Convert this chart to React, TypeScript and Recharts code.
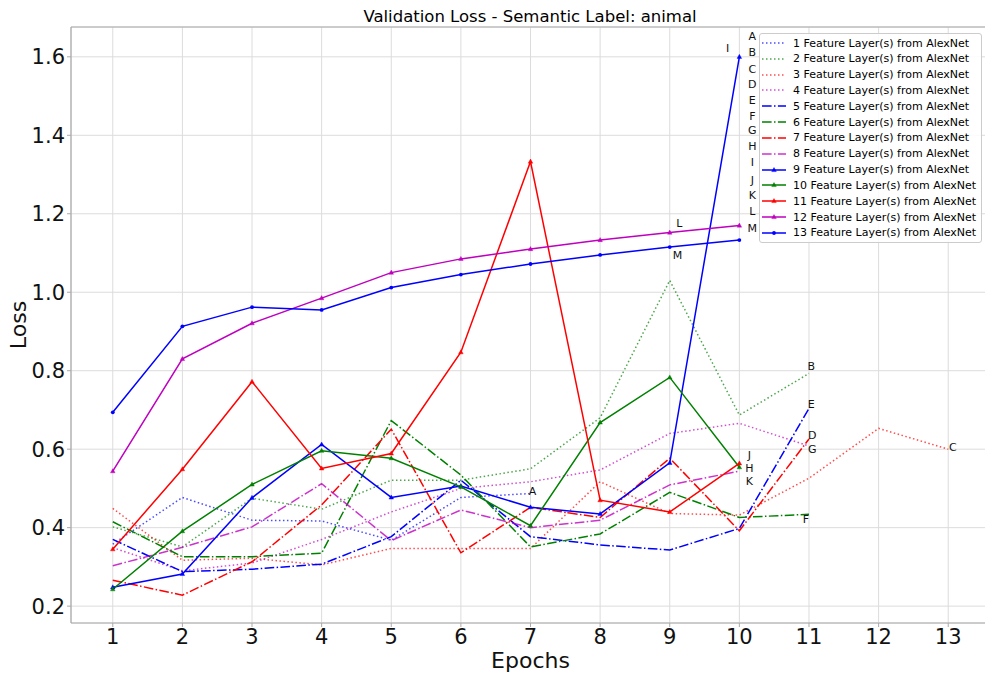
import React from 'react';
import { LineChart, Line, XAxis, YAxis, CartesianGrid, ReferenceDot, ReferenceLine } from 'recharts';

// epochs on the x axis
const epochs = [1, 2, 3, 4, 5, 6, 7, 8, 9, 10, 11, 12, 13];
const xTicks = [1, 2, 3, 4, 5, 6, 7, 8, 9, 10, 11, 12, 13];
const yTicks = [0.2, 0.4, 0.6, 0.8, 1.0, 1.2, 1.4, 1.6];

// validation loss per number of feature layers
const loss1 = [0.358, 0.477, 0.419, 0.417, 0.368, 0.477, 0.487];
const loss2 = [0.402, 0.351, 0.475, 0.447, 0.521, 0.521, 0.55, 0.68, 1.03, 0.687, 0.793];
const loss3 = [0.449, 0.317, 0.322, 0.305, 0.347, 0.347, 0.347, 0.517, 0.436, 0.432, 0.526, 0.653, 0.6];
const loss4 = [0.349, 0.29, 0.31, 0.37, 0.44, 0.5, 0.517, 0.547, 0.64, 0.666, 0.608];
const loss5 = [0.37, 0.288, 0.294, 0.307, 0.377, 0.521, 0.377, 0.356, 0.343, 0.398, 0.704];
const loss6 = [0.415, 0.326, 0.326, 0.335, 0.673, 0.534, 0.351, 0.384, 0.49, 0.426, 0.434];
const loss7 = [0.266, 0.228, 0.313, 0.458, 0.651, 0.336, 0.452, 0.426, 0.577, 0.392, 0.626];
const loss8 = [0.303, 0.35, 0.402, 0.512, 0.367, 0.445, 0.4, 0.419, 0.509, 0.544];
const loss9 = [0.248, 0.282, 0.476, 0.612, 0.477, 0.506, 0.452, 0.435, 0.565, 1.6];
const loss10 = [0.243, 0.391, 0.51, 0.596, 0.577, 0.504, 0.405, 0.668, 0.783, 0.554];
const loss11 = [0.345, 0.549, 0.772, 0.551, 0.589, 0.847, 1.333, 0.47, 0.44, 0.564];
const loss12 = [0.544, 0.83, 0.921, 0.985, 1.05, 1.085, 1.11, 1.133, 1.152, 1.17];
const loss13 = [0.694, 0.913, 0.962, 0.955, 1.012, 1.045, 1.072, 1.095, 1.115, 1.133];

// letter annotations (text, epoch, loss)
const noteText = ['A', 'B', 'C', 'D', 'E', 'F', 'G', 'H', 'I', 'J', 'K', 'L', 'M',
  'I', 'L', 'M', 'A', 'B', 'E', 'D', 'G', 'C', 'J', 'H', 'K', 'F'];
const noteEpoch = [10.186, 10.186, 10.186, 10.186, 10.186, 10.186, 10.186, 10.186, 10.186, 10.186, 10.186, 10.186, 10.186,
  9.832, 9.138, 9.11, 7.028, 11.033, 11.033, 11.047, 11.047, 13.067, 10.143, 10.143, 10.143, 10.957];
const noteLoss = [1.651, 1.61, 1.567, 1.529, 1.488, 1.447, 1.411, 1.371, 1.33, 1.286, 1.246, 1.205, 1.162,
  1.621, 1.174, 1.093, 0.491, 0.812, 0.715, 0.634, 0.6, 0.604, 0.585, 0.551, 0.517, 0.422];

const DOTTED = '1.5 2.5';
const DASHDOT = '9.6 2.4 1.5 2.4';

const series = [
  { key: 's1', values: loss1, color: '#0000ff', dash: DOTTED, marker: '', opacity: 0.7 },
  { key: 's2', values: loss2, color: '#008000', dash: DOTTED, marker: '', opacity: 0.7 },
  { key: 's3', values: loss3, color: '#ff0000', dash: DOTTED, marker: '', opacity: 0.7 },
  { key: 's4', values: loss4, color: '#bf00bf', dash: DOTTED, marker: '', opacity: 0.7 },
  { key: 's5', values: loss5, color: '#0000ff', dash: DASHDOT, marker: '', opacity: 1 },
  { key: 's6', values: loss6, color: '#008000', dash: DASHDOT, marker: '', opacity: 1 },
  { key: 's7', values: loss7, color: '#ff0000', dash: DASHDOT, marker: '', opacity: 1 },
  { key: 's8', values: loss8, color: '#bf00bf', dash: DASHDOT, marker: '', opacity: 0.8 },
  { key: 's9', values: loss9, color: '#0000ff', dash: undefined, marker: 'tri', opacity: 1 },
  { key: 's10', values: loss10, color: '#008000', dash: undefined, marker: 'tri', opacity: 1 },
  { key: 's11', values: loss11, color: '#ff0000', dash: undefined, marker: 'tri', opacity: 1 },
  { key: 's12', values: loss12, color: '#bf00bf', dash: undefined, marker: 'tri', opacity: 1 },
  { key: 's13', values: loss13, color: '#0000ff', dash: undefined, marker: 'dot', opacity: 1 },
];

const data = epochs.map((e, i) => {
  const row: any = { epoch: e };
  series.forEach((s) => {
    if (i < s.values.length) row[s.key] = s.values[i];
  });
  return row;
});

const FONT = 'DejaVu Sans, sans-serif';

function Marker({ cx, cy, color, kind }: any) {
  if (kind === 'tri') {
    return <polygon points={`${cx},${cy - 2.5} ${cx - 2.3},${cy + 1.6} ${cx + 2.3},${cy + 1.6}`} fill={color} stroke={color} strokeWidth={0.4} />;
  }
  return <circle cx={cx} cy={cy} r={1.9} fill={color} />;
}

function makeDot(color: string, kind: string) {
  return (p: any) => {
    if (p.cx == null || p.cy == null || p.value == null) return <g key={`d-${p.index}`} />;
    return (
      <g key={`d-${p.index}`}>
        <Marker cx={p.cx} cy={p.cy} color={color} kind={kind} />
      </g>
    );
  };
}

function LegendBox() {
  return (
    <div
      style={{
        position: 'absolute', left: 759, top: 33, width: 223, height: 210, boxSizing: 'border-box',
        border: '1px solid #cccccc', borderRadius: 3, background: 'rgba(255,255,255,0.85)',
        fontFamily: FONT, fontSize: 11, color: '#000',
      }}
    >
      {series.map((s, i) => (
        <div
          key={s.key}
          style={{ position: 'absolute', left: 2, top: 1 + i * 15.83, height: 16, display: 'flex', alignItems: 'center', whiteSpace: 'nowrap' }}
        >
          <svg width={24} height={10} style={{ display: 'block' }}>
            <line x1={0} y1={5} x2={24} y2={5} stroke={s.color} strokeOpacity={s.opacity} strokeWidth={1.5} strokeDasharray={s.dash} />
            {s.marker ? <Marker cx={12} cy={5} color={s.color} kind={s.marker} /> : null}
          </svg>
          <span style={{ marginLeft: 7 }}>{`${i + 1} Feature Layer(s) from AlexNet`}</span>
        </div>
      ))}
    </div>
  );
}

export default function App() {
  return (
    <div style={{ position: 'absolute', left: 0, top: 0, width: 985, height: 675, overflow: 'hidden', background: '#fff', fontFamily: FONT }}>
      <div style={{ position: 'absolute', left: 280, top: 7, width: 500, textAlign: 'center', fontSize: 16.5, lineHeight: '20px', color: '#000' }}>
        Validation Loss - Semantic Label: animal
      </div>
      <LineChart width={995} height={675} data={data} margin={{ top: 27, right: 5, left: 0, bottom: 0 }}>
        <CartesianGrid stroke="#dcdcdc" strokeWidth={1} horizontal vertical />
        <XAxis
          dataKey="epoch"
          type="number"
          domain={[0.4, 13.6]}
          ticks={xTicks}
          allowDataOverflow
          height={52}
          axisLine={{ stroke: '#aaaaaa', strokeWidth: 1.2 }}
          tickLine={{ stroke: '#aaaaaa' }}
          tickSize={4}
          tickMargin={2}
          tick={{ fontSize: 21, fill: '#111', fontFamily: FONT }}
          label={{
            content: (p: any) => (
              <text x={p.viewBox.x + p.viewBox.width / 2} y={660} textAnchor="middle" dominantBaseline="central" fontSize={22} fill="#111" fontFamily={FONT}>
                Epochs
              </text>
            ),
          }}
        />
        <YAxis
          type="number"
          domain={[0.157, 1.676]}
          ticks={yTicks}
          allowDataOverflow
          width={71}
          axisLine={{ stroke: '#aaaaaa', strokeWidth: 1.2 }}
          tickLine={{ stroke: '#aaaaaa' }}
          tickSize={4}
          tickMargin={2}
          tickFormatter={(v: number) => v.toFixed(1)}
          tick={{ fontSize: 21, fill: '#111', fontFamily: FONT }}
          label={{
            content: (p: any) => (
              <text x={18} y={p.viewBox.y + p.viewBox.height / 2} textAnchor="middle" dominantBaseline="central" fontSize={22} fill="#111" fontFamily={FONT} transform={`rotate(-90, 18, ${p.viewBox.y + p.viewBox.height / 2})`}>
                Loss
              </text>
            ),
          }}
        />
        <ReferenceLine y={1.676} stroke="#aaaaaa" strokeWidth={1.2} ifOverflow="visible" />
        {series.map((s) => (
          <Line
            key={s.key}
            type="linear"
            dataKey={s.key}
            stroke={s.color}
            strokeOpacity={s.opacity}
            strokeWidth={1.5}
            strokeDasharray={s.dash}
            dot={s.marker ? makeDot(s.color, s.marker) : false}
            activeDot={false}
            isAnimationActive={false}
            connectNulls={false}
          />
        ))}
        {noteText.map((t, i) => (
          <ReferenceDot
            key={`n-${i}`}
            x={noteEpoch[i]}
            y={noteLoss[i]}
            r={0}
            ifOverflow="visible"
            shape={(p: any) => (
              <text x={p.cx} y={p.cy} textAnchor="middle" dominantBaseline="central" fontSize={11} fill="#111" fontFamily={FONT}>
                {t}
              </text>
            )}
          />
        ))}
      </LineChart>
      <LegendBox />
    </div>
  );
}
